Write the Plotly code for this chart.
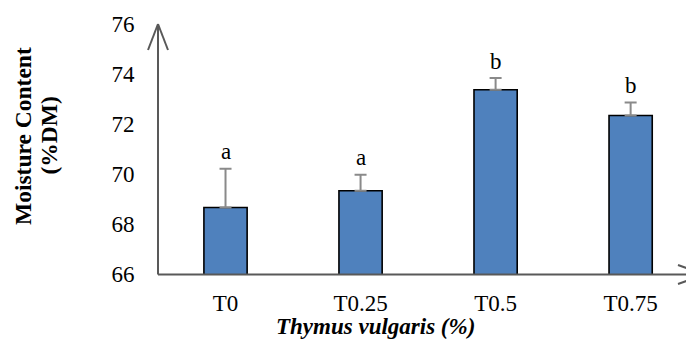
import plotly.graph_objects as go

categories = ["T0", "T0.25", "T0.5", "T0.75"]
moisture = [68.66, 69.33, 73.37, 72.34]
errors = [1.55, 0.64, 0.47, 0.52]
letters = ["a", "a", "b", "b"]
y_ticks = [66, 68, 70, 72, 74, 76]

W, H = 686, 340
L, R, T, B = 158, 0, 24, 66
pw, ph = W - L - R, H - T - B

def px(x):
    return (x - L) / pw

def py(y):
    return (H - B - y) / ph

FONT = "Liberation Serif, Times New Roman, serif"
AX = "#595959"

fig = go.Figure()
fig.add_trace(go.Bar(
    x=list(range(len(categories))), y=moisture, width=0.32,
    marker=dict(color="#4F81BD", line=dict(color="black", width=1.6)),
    error_y=dict(type="data", symmetric=False, array=errors,
                 arrayminus=[0] * len(errors), color="#8a8a8a",
                 thickness=2, width=6),
    hoverinfo="skip",
))

annotations = []
for i, (v, e, t) in enumerate(zip(moisture, errors, letters)):
    annotations.append(dict(x=i, y=v + e, xref="x", yref="y", text=t,
                            showarrow=False, yanchor="middle", yshift=17,
                            font=dict(family=FONT, size=23, color="black")))

annotations.append(dict(x=px(375), y=0, xref="paper", yref="paper",
                        text="<b><i>Thymus vulgaris (%)</i></b>", showarrow=False,
                        xanchor="center", yanchor="bottom", yshift=-(H - T - ph) + 0.5,
                        borderpad=0,
                        font=dict(family=FONT, size=23, color="black")))
annotations.append(dict(x=px(23), y=py(136), xref="paper", yref="paper",
                        text="<b>Moisture Content</b>", showarrow=False,
                        textangle=-90, xanchor="center", yanchor="middle",
                        font=dict(family=FONT, size=23.5, color="black")))
annotations.append(dict(x=px(48.5), y=py(136), xref="paper", yref="paper",
                        text="<b>(%DM)</b>", showarrow=False,
                        textangle=-90, xanchor="center", yanchor="middle",
                        font=dict(family=FONT, size=23.5, color="black")))

shapes = []
def line(x0, y0, x1, y1):
    shapes.append(dict(type="line", xref="paper", yref="paper",
                       x0=px(x0), y0=py(y0), x1=px(x1), y1=py(y1),
                       line=dict(color=AX, width=2), layer="above"))

# y axis with open arrow
line(158, 274.5, 158, 24)
line(158, 24, 148, 50)
line(158, 24, 168, 50)
# x axis with open arrow
line(158, 274.5, 704, 274.5)
line(704, 274.5, 678, 265)
line(704, 274.5, 678, 284)

fig.update_layout(
    width=W, height=H,
    margin=dict(l=L, r=R, t=T, b=B),
    paper_bgcolor="white", plot_bgcolor="white",
    showlegend=False,
    annotations=annotations,
    shapes=shapes,
    xaxis=dict(range=[-0.5, 3.41], tickmode="array",
               tickvals=list(range(len(categories))), ticktext=categories,
               showline=False, showgrid=False, zeroline=False,
               ticks="outside", ticklen=8, tickcolor="rgba(0,0,0,0)",
               tickfont=dict(family=FONT, size=23, color="black")),
    yaxis=dict(range=[66, 76], tickmode="array", tickvals=y_ticks,
               showline=False, showgrid=False, zeroline=False,
               ticks="outside", ticklen=18, tickcolor="rgba(0,0,0,0)",
               tickfont=dict(family=FONT, size=23, color="black")),
)

fig.write_html("out.html", config={"displayModeBar": False},
               post_script="document.body.style.margin='0';document.body.style.overflow='hidden';")
